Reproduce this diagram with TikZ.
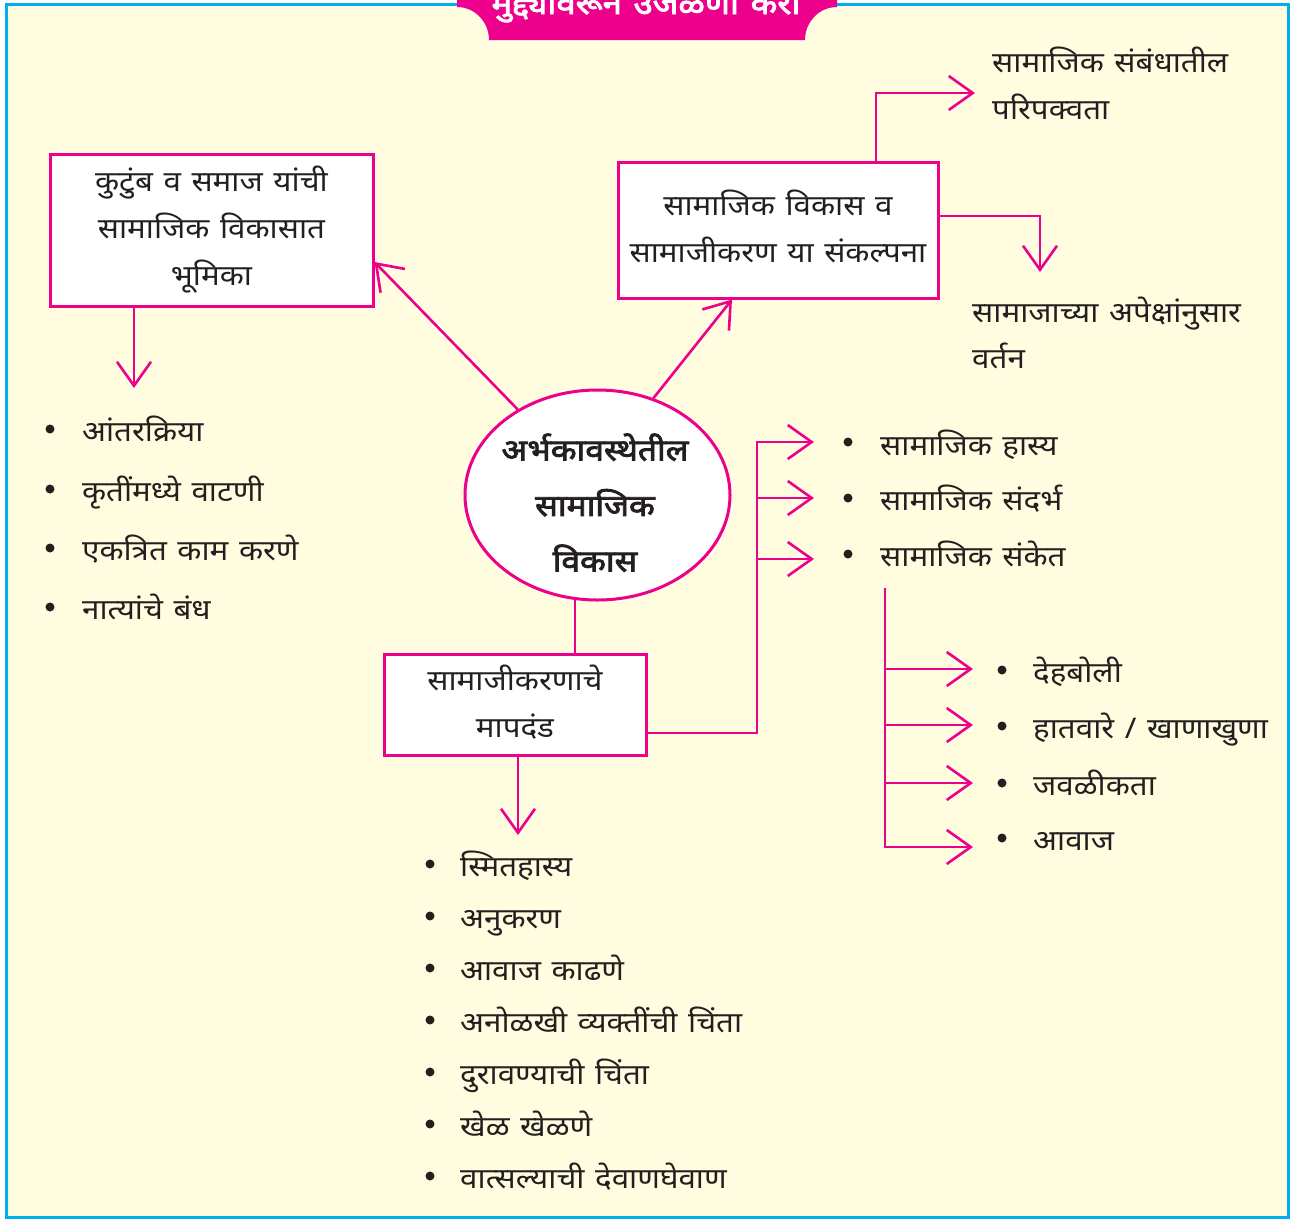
\documentclass[tikz,border=0pt]{standalone}
\usepackage{fontspec}
\newfontfamily\dev[Script=Devanagari, FakeStretch=1.1, WordSpace=1.3]{Noto Sans}
\newfontfamily\devb[Script=Devanagari, FakeStretch=1.12, FakeBold=2.8, WordSpace=1.3]{Noto Sans}
\usetikzlibrary{arrows.meta,shapes.geometric}
\definecolor{pk}{HTML}{EC008C}
\definecolor{cream}{HTML}{FFFCE0}
\definecolor{bl}{HTML}{00AEEF}
\definecolor{ink}{HTML}{231F20}
\newcommand\dstr{\rule[-8pt]{0pt}{28pt}}
\pgfdeclarelayer{bg}\pgfdeclarelayer{lines}\pgfsetlayers{bg,lines,main}
\begin{document}
\begin{tikzpicture}[x=1pt,y=-1pt,
  every node/.style={font=\dev\fontsize{28.5}{47}\selectfont, text=ink, inner sep=0pt},
  box/.style={draw=pk, line width=3pt, fill=white, align=center},
  conn/.style={draw=pk, line width=2.6pt},
  arr/.style={conn, -{Straight Barb[length=24pt,width=34pt]}},
  lbl/.style={anchor=base west},
  dot/.style={circle, fill=ink, minimum size=9pt, inner sep=0pt},
]
\useasboundingbox (0,0) rectangle (1309,1218);
\clip (0,0) rectangle (1309,1218);
\begin{pgfonlayer}{bg}
  \fill[white] (0,0) rectangle (1309,1218);
  \filldraw[fill=cream, draw=bl, line width=3pt] (6,4.5) rectangle (1288.5,1217);
\end{pgfonlayer}

% banner
\fill[pk] (457,-10) -- (457,7) arc[start angle=-90, end angle=0, x radius=32, y radius=33]
  -- (805,40) arc[start angle=180, end angle=270, x radius=32, y radius=33] -- (837,-10) -- cycle;
\node[anchor=base, text=white, font=\devb\fontsize{31}{36}\selectfont] (title) at (646,14) {मुद्द्यांवरून उजळणी करा};

% main nodes
\node[box, minimum width=323pt, minimum height=152pt] (b1) at (211.5,230)
  {\dstr कुटुंब व समाज यांची\\\dstr सामाजिक विकासात\\\dstr भूमिका};
\node[box, minimum width=320pt, minimum height=136pt] (b2) at (778,230)
  {\dstr सामाजिक विकास व\\\dstr सामाजीकरण या संकल्पना};
\node[box, minimum width=262pt, minimum height=101pt] (b3) at (515,705)
  {\dstr सामाजीकरणाचे\\\dstr मापदंड};
\node[ellipse, draw=pk, line width=3pt, fill=white, minimum width=265pt, minimum height=210pt] (ell) at (597.5,495) {};
\node[align=center, font=\devb\fontsize{30}{55.5}\selectfont] (ellt) at (595,506.5)
  {\dstr अर्भकावस्थेतील\\\dstr सामाजिक\\\dstr विकास};

% free texts
\node[lbl] (pa1) at (992,72) {सामाजिक संबंधातील};
\node[lbl] (pa2) at (992,119) {परिपक्वता};
\node[lbl] (pb1) at (972,322) {सामाजाच्या अपेक्षांनुसार};
\node[lbl] (pb2) at (972,368) {वर्तन};

% left list
\node[dot] (dl1) at (50,429) {}; \node[lbl] (l1) at (82,441) {आंतरक्रिया};
\node[dot] (dl2) at (50,489) {}; \node[lbl] (l2) at (82,501) {कृतींमध्ये वाटणी};
\node[dot] (dl3) at (50,548) {}; \node[lbl] (l3) at (82,560) {एकत्रित काम करणे};
\node[dot] (dl4) at (50,607) {}; \node[lbl] (l4) at (82,619) {नात्यांचे बंध};

% right list 1
\node[dot] (dr1) at (848,442) {}; \node[lbl] (r1) at (880,455) {सामाजिक हास्य};
\node[dot] (dr2) at (848,498) {}; \node[lbl] (r2) at (880,510) {सामाजिक संदर्भ};
\node[dot] (dr3) at (848,554) {}; \node[lbl] (r3) at (880,566) {सामाजिक संकेत};

% right list 2
\node[dot] (ds1) at (1002,670) {}; \node[lbl] (s1) at (1033,682) {देहबोली};
\node[dot] (ds2) at (1002,726) {}; \node[lbl] (s2) at (1033,738) {हातवारे / खाणाखुणा};
\node[dot] (ds3) at (1002,783) {}; \node[lbl] (s3) at (1033,795) {जवळीकता};
\node[dot] (ds4) at (1002,838) {}; \node[lbl] (s4) at (1033,850) {आवाज};

% bottom list
\node[dot] (db1) at (430,864) {}; \node[lbl] (m1) at (460,876) {स्मितहास्य};
\node[dot] (db2) at (430,916) {}; \node[lbl] (m2) at (460,928) {अनुकरण};
\node[dot] (db3) at (430,968) {}; \node[lbl] (m3) at (460,980) {आवाज काढणे};
\node[dot] (db4) at (430,1020) {}; \node[lbl] (m4) at (460,1032) {अनोळखी व्यक्तींची चिंता};
\node[dot] (db5) at (430,1072) {}; \node[lbl] (m5) at (460,1084) {दुरावण्याची चिंता};
\node[dot] (db6) at (430,1124) {}; \node[lbl] (m6) at (460,1136) {खेळ खेळणे};
\node[dot] (db7) at (430,1176) {}; \node[lbl] (m7) at (460,1188) {वात्सल्याची देवाणघेवाण};

% coordinates
\coordinate (pl1) at (134,388);
\coordinate (pr1) at (975,93);
\coordinate (pr2) at (1040,272);
\coordinate (pbt) at (518,835);
\coordinate (e3) at (575,598);
\coordinate (jb) at (757,733);
\coordinate (a1) at (814,442);
\coordinate (a2) at (814,498);
\coordinate (a3) at (814,559);
\coordinate (k0) at (885,588);
\coordinate (c1) at (973,669);
\coordinate (c2) at (973,725);
\coordinate (c3) at (973,783);
\coordinate (c4) at (973,847);

\begin{pgfonlayer}{lines}
  \draw[arr] (ell.133) -- ([yshift=-32pt]b1.east);
  \draw[arr] (ell.60.5) -- ([xshift=-46pt]b2.south);
  \draw[arr] ([xshift=98pt]b2.north) |- (pr1);
  \draw[arr] ([yshift=14pt]b2.east) -| (pr2);
  \draw[arr] (b1.south -| pl1) -- (pl1);
  \draw[arr] (b3.south -| pbt) -- (pbt);
  \draw[conn] (b3.north -| e3) -- (e3);
  \draw[arr] (b3.east |- jb) -- (jb) |- (a1);
  \draw[arr] (jb |- a2) -- (a2);
  \draw[arr] (jb |- a3) -- (a3);
  \draw[arr] (k0) |- (c4);
  \draw[arr] (k0 |- c1) -- (c1);
  \draw[arr] (k0 |- c2) -- (c2);
  \draw[arr] (k0 |- c3) -- (c3);
\end{pgfonlayer}
\end{tikzpicture}
\end{document}
